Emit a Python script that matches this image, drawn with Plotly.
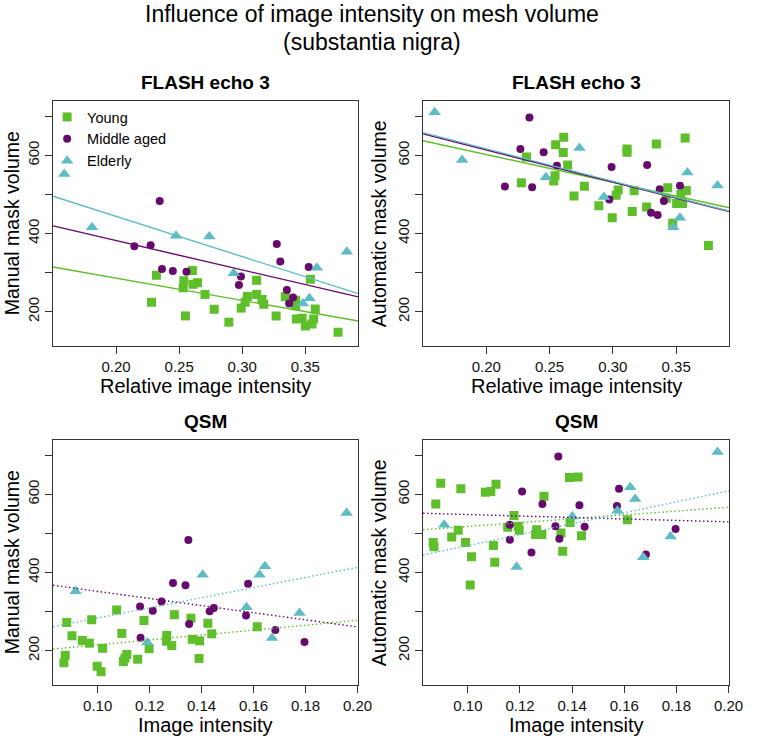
import numpy as np
import plotly.graph_objects as go

W, H = 758, 740

# ---------------- data ----------------
# FLASH echo 3: relative image intensity vs manual mask volume
flash_manual_young_x = [0.2605, 0.2320, 0.2537, 0.2532, 0.2610, 0.2646, 0.2705, 0.2281, 0.2550, 0.2778,
                        0.2894, 0.2992, 0.3023, 0.3041, 0.3114, 0.3114, 0.3157, 0.3171, 0.3269, 0.3341,
                        0.3424, 0.3424, 0.3540, 0.3579, 0.3429, 0.3475, 0.3566, 0.3553, 0.3501, 0.3760]
flash_manual_young_y = [305, 293, 279, 261, 270, 274, 244, 224, 189, 206,
                        173, 209, 224, 239, 280, 244, 231, 219, 189, 238,
                        229, 215, 283, 207, 181, 183, 181, 168, 163, 147]
flash_manual_middle_x = [0.2346, 0.2145, 0.2274, 0.2364, 0.2450, 0.2558, 0.3274, 0.3302, 0.3527, 0.2990,
                         0.2974, 0.3354, 0.3403, 0.3372]
flash_manual_middle_y = [483, 367, 370, 309, 304, 302, 373, 328, 314, 290, 268, 255, 236, 221]
flash_manual_elderly_x = [0.1589, 0.1809, 0.2475, 0.2739, 0.2933, 0.3481, 0.3533, 0.3592, 0.3829]
flash_manual_elderly_y = [552, 416, 394, 392, 298, 221, 234, 312, 353]

# FLASH echo 3: relative image intensity vs automatic mask volume
flash_auto_young_x = [0.2612, 0.2548, 0.2608, 0.2318, 0.2643, 0.2543, 0.2533, 0.2277, 0.2693, 0.3112,
                      0.3112, 0.3344, 0.3571, 0.2775, 0.3042, 0.3026, 0.3168, 0.2889, 0.2995, 0.3153,
                      0.3267, 0.3434, 0.3422, 0.3581, 0.3538, 0.3504, 0.3550, 0.3473, 0.3755]
flash_auto_young_y = [646, 627, 607, 596, 575, 548, 534, 530, 496, 616,
                      608, 629, 644, 521, 511, 498, 509, 471, 440, 456,
                      468, 517, 490, 510, 500, 477, 477, 426, 369]
flash_auto_middle_x = [0.2341, 0.2269, 0.2453, 0.2558, 0.2147, 0.2362, 0.2990, 0.3271, 0.3530, 0.3370,
                       0.2972, 0.3403, 0.3302, 0.3354]
flash_auto_middle_y = [697, 616, 608, 573, 520, 518, 570, 575, 522, 513, 487, 483, 453, 447]
flash_auto_elderly_x = [0.1592, 0.1809, 0.2471, 0.2736, 0.2930, 0.3478, 0.3530, 0.3589, 0.3827]
flash_auto_elderly_y = [710, 588, 544, 619, 493, 416, 440, 556, 523]

# QSM: image intensity vs manual mask volume
qsm_manual_young_x = [0.0881, 0.0901, 0.0941, 0.0968, 0.0977, 0.0875, 0.0870, 0.0998, 0.1013, 0.1019,
                      0.1073, 0.1093, 0.1112, 0.1105, 0.1099, 0.1154, 0.1178, 0.1198, 0.1295, 0.1266,
                      0.1265, 0.1285, 0.1359, 0.1364, 0.1392, 0.1390, 0.1424, 0.1439, 0.1614]
qsm_manual_young_y = [272, 238, 226, 219, 279, 188, 169, 160, 146, 206,
                      304, 244, 190, 181, 172, 178, 277, 205, 292, 239,
                      224, 213, 283, 229, 225, 180, 270, 243, 261]
qsm_manual_middle_x = [0.1349, 0.1290, 0.1338, 0.1246, 0.1163, 0.1212, 0.1352, 0.1165, 0.1579, 0.1447,
                       0.1431, 0.1571, 0.1684, 0.1796]
qsm_manual_middle_y = [483, 373, 367, 326, 313, 302, 268, 233, 371, 309, 301, 290, 253, 222]
qsm_manual_elderly_x = [0.0915, 0.1191, 0.1404, 0.1958, 0.1644, 0.1623, 0.1573, 0.1777, 0.1671]
qsm_manual_elderly_y = [352, 221, 394, 552, 416, 394, 311, 296, 232]

# QSM: image intensity vs automatic mask volume
qsm_auto_young_x = [0.0896, 0.0973, 0.1067, 0.1088, 0.1108, 0.1390, 0.1423, 0.1292, 0.0877, 0.1177,
                    0.1153, 0.1193, 0.1197, 0.0963, 0.0938, 0.0867, 0.0870, 0.0991, 0.1098, 0.1014,
                    0.1103, 0.1009, 0.1264, 0.1260, 0.1284, 0.1357, 0.1364, 0.1392, 0.1436, 0.1612]
qsm_auto_young_y = [628, 614, 605, 607, 626, 643, 644, 595, 575, 546,
                    516, 518, 508, 508, 491, 477, 466, 477, 469, 440,
                    426, 368, 509, 497, 497, 501, 454, 528, 494, 535]
qsm_auto_middle_x = [0.1347, 0.1208, 0.1580, 0.1286, 0.1428, 0.1572, 0.1161, 0.1336, 0.1161, 0.1351,
                     0.1244, 0.1448, 0.1797, 0.1683]
qsm_auto_middle_y = [697, 607, 614, 575, 572, 570, 522, 518, 484, 486, 451, 517, 511, 446]
qsm_auto_elderly_x = [0.1958, 0.1623, 0.1642, 0.0909, 0.1187, 0.1401, 0.1574, 0.1778, 0.1673]
qsm_auto_elderly_y = [708, 618, 588, 522, 414, 543, 558, 492, 439]

group_names = ["Young", "Middle aged", "Elderly"]
flash_ticks = [0.20, 0.25, 0.30, 0.35]
qsm_ticks = [0.10, 0.12, 0.14, 0.16, 0.18, 0.20]
vol_ticks = [200, 300, 400, 500, 600, 700]
vol_labels = ["200", "", "400", "", "600", ""]

# ---------------- style ----------------
FONT = "Liberation Sans, Arial, Helvetica, sans-serif"
COLORS = ["#5fbf2a", "#660a6e", "#5fbcc4"]
SYMBOLS = ["square", "circle", "triangle-up"]
SIZES = [9, 8, 11]
FLASH_RANGE = [0.1500, 0.3920]
QSM_RANGE = [0.0828, 0.2003]
VOL_RANGE = [112, 739]

# pixel boxes of the four plot areas
left_px, right_px = (54, 365), (431, 743)
top_px, bot_px = (101, 346), (440, 685)


def fx(px):
    return px / W


def fy(py):
    return 1 - py / H


def xdom(p):
    return [fx(p[0]), fx(p[1])]


def ydom(p):
    return [fy(p[1]), fy(p[0])]


panels = [
    dict(ax="1", xr=FLASH_RANGE, xt=flash_ticks, xp=left_px, yp=top_px, dash="solid",
         groups=[(flash_manual_young_x, flash_manual_young_y), (flash_manual_middle_x, flash_manual_middle_y),
                 (flash_manual_elderly_x, flash_manual_elderly_y)]),
    dict(ax="2", xr=FLASH_RANGE, xt=flash_ticks, xp=right_px, yp=top_px, dash="solid",
         groups=[(flash_auto_young_x, flash_auto_young_y), (flash_auto_middle_x, flash_auto_middle_y),
                 (flash_auto_elderly_x, flash_auto_elderly_y)]),
    dict(ax="3", xr=QSM_RANGE, xt=qsm_ticks, xp=left_px, yp=bot_px, dash="1.5px,2.5px",
         groups=[(qsm_manual_young_x, qsm_manual_young_y), (qsm_manual_middle_x, qsm_manual_middle_y),
                 (qsm_manual_elderly_x, qsm_manual_elderly_y)]),
    dict(ax="4", xr=QSM_RANGE, xt=qsm_ticks, xp=right_px, yp=bot_px, dash="1.5px,2.5px",
         groups=[(qsm_auto_young_x, qsm_auto_young_y), (qsm_auto_middle_x, qsm_auto_middle_y),
                 (qsm_auto_elderly_x, qsm_auto_elderly_y)]),
]

fig = go.Figure()
layout = {}
for i, p in enumerate(panels):
    sfx = "" if p["ax"] == "1" else p["ax"]
    xref, yref = "x" + sfx, "y" + sfx
    for g, (gx, gy) in enumerate(p["groups"]):
        fig.add_trace(go.Scatter(
            x=gx, y=gy, mode="markers", xaxis=xref, yaxis=yref,
            name=group_names[g], showlegend=(i == 0), legendrank=g + 1,
            marker=dict(symbol=SYMBOLS[g], size=SIZES[g], color=COLORS[g], line=dict(width=0)),
        ))
    for g, (gx, gy) in enumerate(p["groups"]):
        slope, icpt = np.polyfit(np.array(gx), np.array(gy), 1)
        xs = np.array(p["xr"])
        fig.add_trace(go.Scatter(
            x=xs, y=slope * xs + icpt, mode="lines", xaxis=xref, yaxis=yref,
            showlegend=False, hoverinfo="skip",
            line=dict(color=COLORS[g], width=1.4, dash=p["dash"]),
        ))
    axis_common = dict(showline=True, mirror=True, linecolor="#333333", linewidth=1,
                       ticks="outside", ticklen=7, tickwidth=1, tickcolor="#333333",
                       showgrid=False, zeroline=False,
                       tickfont=dict(family=FONT, size=15, color="#111111"))
    layout["xaxis" + sfx] = dict(domain=xdom(p["xp"]), range=p["xr"], tickvals=p["xt"],
                                 ticktext=["%.2f" % v for v in p["xt"]], anchor=yref, **axis_common)
    layout["yaxis" + sfx] = dict(domain=ydom(p["yp"]), range=VOL_RANGE, tickvals=vol_ticks,
                                 ticktext=vol_labels, tickangle=-90, anchor=xref, **axis_common)

fig.update_layout(**layout)


def ann(text, px, py, size, bold=False, angle=0):
    return dict(text=("<b>%s</b>" % text) if bold else text, x=fx(px), y=fy(py),
                xref="paper", yref="paper", xanchor="center", yanchor="middle",
                showarrow=False, textangle=angle,
                font=dict(family=FONT, size=size, color="#000000"))


lc = (left_px[0] + left_px[1]) / 2
rc = (right_px[0] + right_px[1]) / 2
tc = (top_px[0] + top_px[1]) / 2
bc = (bot_px[0] + bot_px[1]) / 2
annotations = [
    ann("Influence of image intensity on mesh volume", 379, 14, 23),
    ann("(substantia nigra)", 379, 42, 23),
    ann("FLASH echo 3", lc, 83, 19, bold=True),
    ann("FLASH echo 3", rc, 83, 19, bold=True),
    ann("QSM", lc, 422, 19, bold=True),
    ann("QSM", rc, 422, 19, bold=True),
    ann("Relative image intensity", lc, 386, 20),
    ann("Relative image intensity", rc, 386, 20),
    ann("Image intensity", lc, 725, 20),
    ann("Image intensity", rc, 725, 20),
    ann("Manual mask volume", 12, tc, 19.5, angle=-90),
    ann("Manual mask volume", 12, bc, 19.5, angle=-90),
    ann("Automatic mask volume", 386, tc, 19.5, angle=-90),
    ann("Automatic mask volume", 386, bc, 19.5, angle=-90),
]

fig.update_layout(
    width=W, height=H, margin=dict(l=0, r=0, t=0, b=0),
    paper_bgcolor="white", plot_bgcolor="white",
    font=dict(family=FONT, size=15, color="#000000"),
    annotations=annotations,
    legend=dict(x=fx(48), y=fy(101), xanchor="left", yanchor="top",
                bgcolor="rgba(0,0,0,0)", font=dict(family=FONT, size=14.5, color="#000000"),
                tracegroupgap=0, itemclick=False),
    showlegend=True,
)

# the page's default 8px body margin would push the 758x740 figure off the window
fig.write_html("out.html", config={"displayModeBar": False},
               post_script="document.body.style.margin='0px';")
